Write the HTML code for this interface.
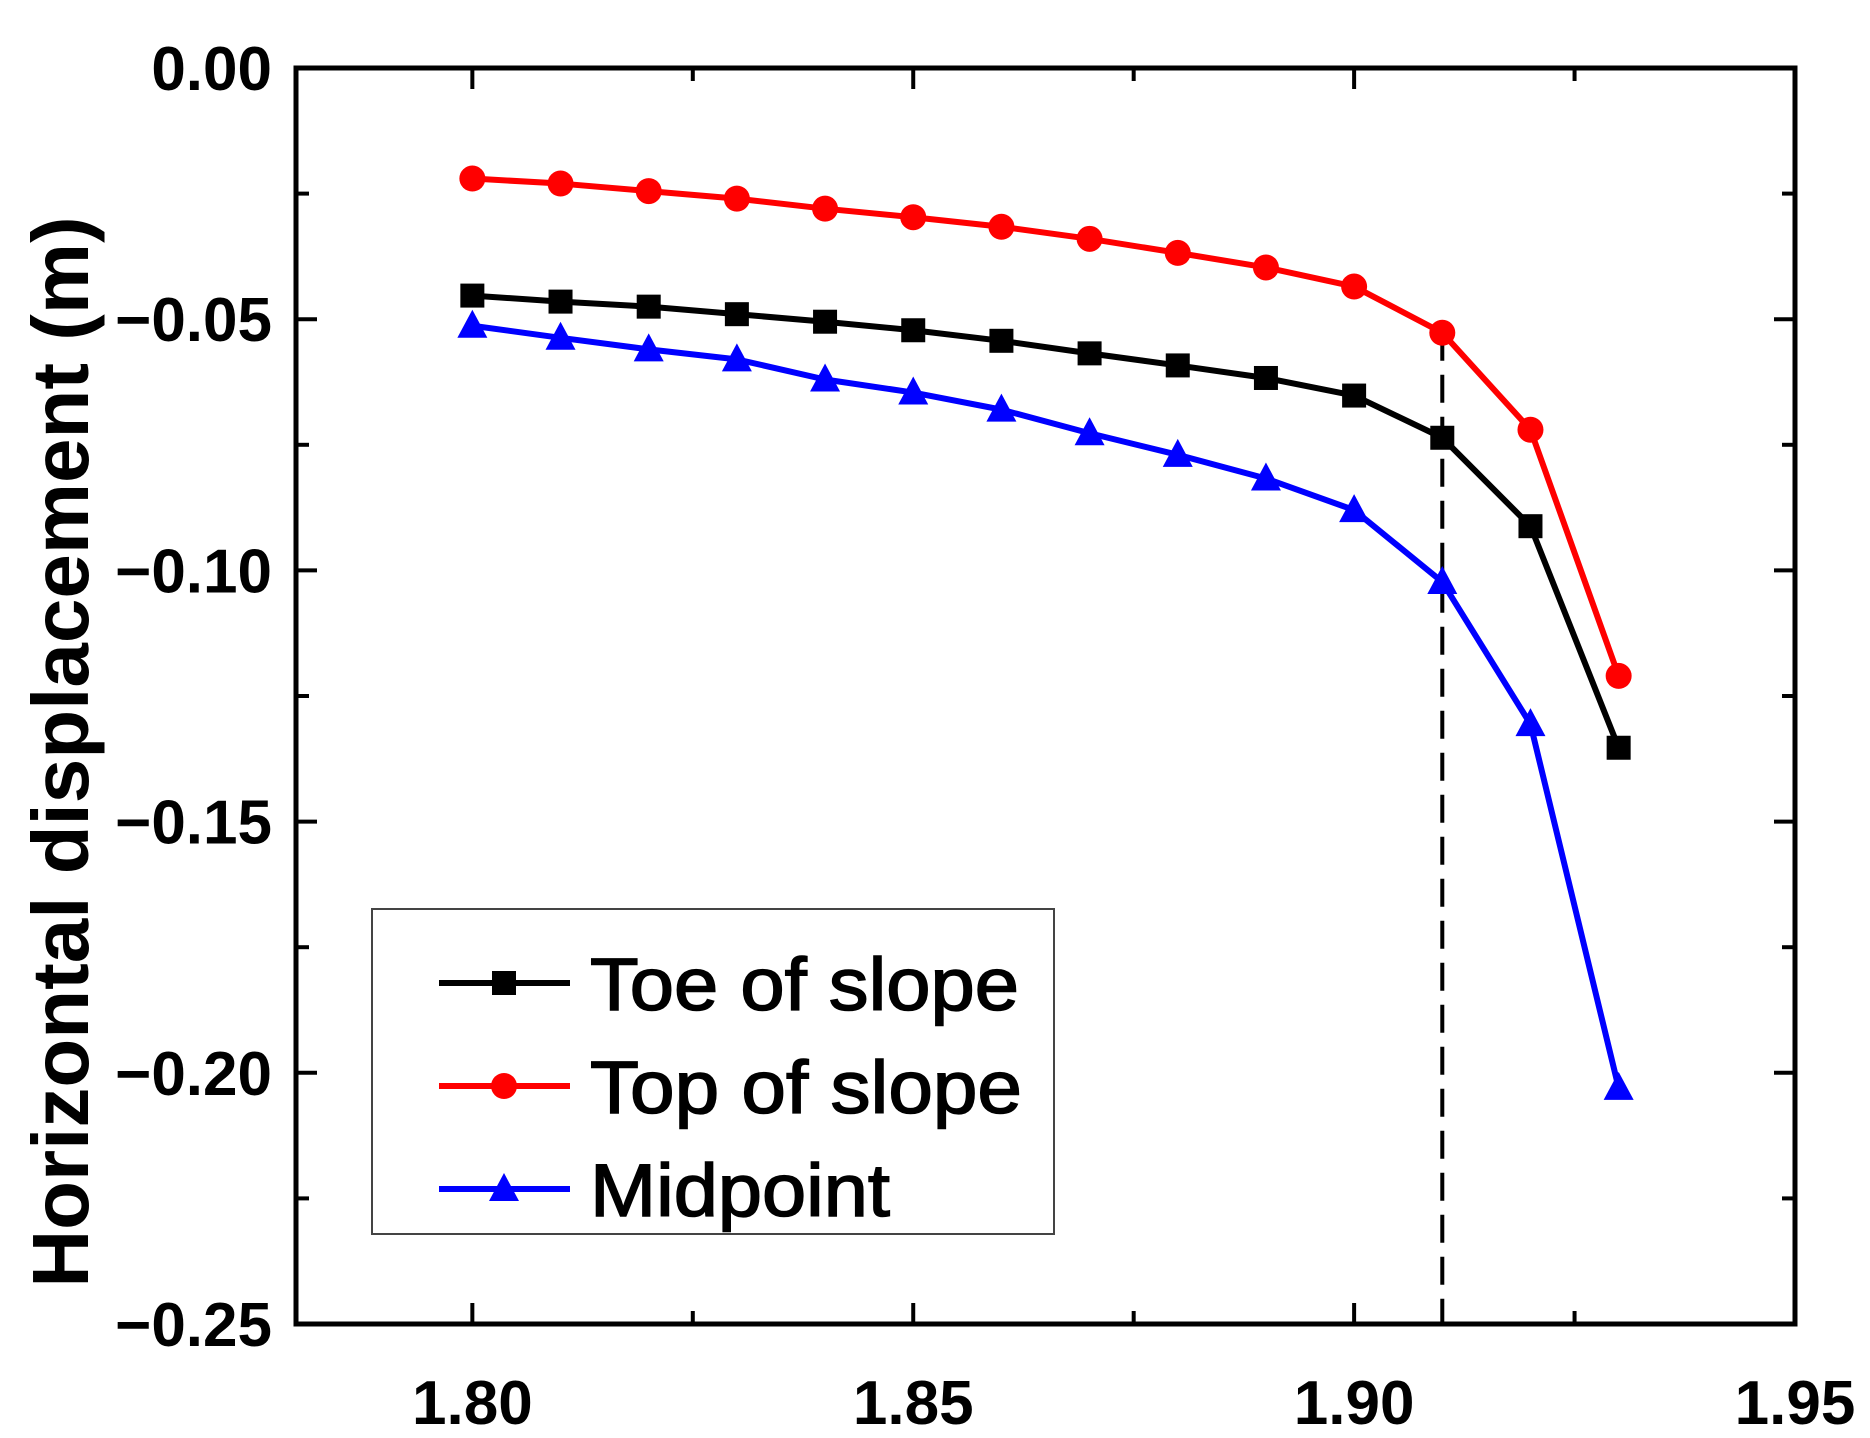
<!DOCTYPE html>
<html><head><meta charset="utf-8"><style>
html,body{margin:0;padding:0;background:#fff;overflow:hidden;}
svg{display:block;font-family:"Liberation Sans",Arial,sans-serif;font-weight:bold;}
</style></head><body>
<svg id="chart" width="1870" height="1438" viewBox="0 0 1870 1438"></svg>
<script>
const xValues=[1.80,1.81,1.82,1.83,1.84,1.85,1.86,1.87,1.88,1.89,1.90,1.91,1.92,1.93];
const toeValues=[-0.0453,-0.0465,-0.0475,-0.049,-0.0505,-0.0522,-0.0543,-0.0568,-0.0592,-0.0617,-0.0652,-0.0736,-0.0912,-0.1353];
const topValues=[-0.022,-0.023,-0.0245,-0.026,-0.028,-0.0297,-0.0316,-0.034,-0.0368,-0.0397,-0.0435,-0.0527,-0.072,-0.121];
const midValues=[-0.0513,-0.0537,-0.056,-0.058,-0.062,-0.0646,-0.068,-0.0727,-0.077,-0.0817,-0.088,-0.1023,-0.1306,-0.203];
const xTicks=[1.80,1.85,1.90,1.95];
const xTickLabels=["1.80","1.85","1.90","1.95"];
const yTicks=[0,-0.05,-0.10,-0.15,-0.20,-0.25];
const yTickLabels=["0.00","\u22120.05","\u22120.10","\u22120.15","\u22120.20","\u22120.25"];
const dashX=1.91;

const NS="http://www.w3.org/2000/svg";
const svg=document.getElementById('chart');
const L=296,R=1795,T=68,B=1324;
const xMin=1.78,xMax=1.95,yMin=-0.25,yMax=0;
const sx=v=>L+(v-xMin)/(xMax-xMin)*(R-L);
const sy=v=>T+(yMax-v)/(yMax-yMin)*(B-T);
function mk(tag,attrs,parent){const e=document.createElementNS(NS,tag);for(const k in attrs)e.setAttribute(k,attrs[k]);(parent||svg).appendChild(e);return e;}

const tickG=mk('g',{});


const tl=21, tm=13;
for(let i=0;i<=6;i++){const v=1.80+0.025*i;const x=sx(v);const len=i%2===0?tl:tm;
 mk('line',{x1:x,y1:B,x2:x,y2:B-len,stroke:'#000','stroke-width':4},tickG);
 mk('line',{x1:x,y1:T,x2:x,y2:T+len,stroke:'#000','stroke-width':4},tickG);}
for(let i=0;i<=10;i++){const v=-0.025*i;const y=sy(v);const len=i%2===0?tl:tm;
 mk('line',{x1:L,y1:y,x2:L+len,y2:y,stroke:'#000','stroke-width':4},tickG);
 mk('line',{x1:R,y1:y,x2:R-len,y2:y,stroke:'#000','stroke-width':4},tickG);}

xTicks.forEach((v,i)=>{const t=mk('text',{x:sx(v),y:1424,'text-anchor':'middle','font-size':62,fill:'#000'});t.textContent=xTickLabels[i];
 
 });
yTicks.forEach((v,i)=>{const t=mk('text',{x:272,y:sy(v)+22,'text-anchor':'end','font-size':62,fill:'#000'});t.textContent=yTickLabels[i];
 
 });

const yt=mk('text',{x:0,y:0,transform:'translate(88,752) rotate(-90)','text-anchor':'middle','font-size':80,fill:'#000'});
yt.textContent='Horizontal displacement (m)';



const dl=mk('line',{x1:sx(dashX),y1:sy(topValues[11]),x2:sx(dashX),y2:B,stroke:'#000','stroke-width':4,'stroke-dasharray':'28,14'});



function marker(type,x,y,color,g){
 if(type==='square') return mk('rect',{x:x-12,y:y-12,width:24,height:24,fill:color},g);
 if(type==='circle') return mk('circle',{cx:x,cy:y,r:13,fill:color},g);
 return mk('polygon',{points:`${x},${y-16} ${x-15},${y+12} ${x+15},${y+12}`,fill:color},g);
}
const series=[['toe-of-slope',toeValues,'#000','square'],['top-of-slope',topValues,'#ff0000','circle'],['midpoint',midValues,'#0000ff','triangle']];
series.forEach(([name,vals,color,type])=>{
 const g=mk('g',{});
 
 
 const pts=vals.map((v,i)=>sx(xValues[i])+','+sy(v)).join(' ');
 mk('polyline',{points:pts,fill:'none',stroke:color,'stroke-width':6,'stroke-linejoin':'round'},g);
 vals.forEach((v,i)=>{const m=marker(type,sx(xValues[i]),sy(v),color,g);
  
  });
});

const fr=mk('rect',{x:L,y:T,width:R-L,height:B-T,fill:'none',stroke:'#000','stroke-width':5});



const lg=mk('g',{});


mk('rect',{x:372,y:909,width:682,height:325,fill:'#fff',stroke:'#444','stroke-width':2},lg);
const labels=['Toe of slope','Top of slope','Midpoint'];
const lens=[429,432,300];
series.forEach(([name,vals,color,type],i)=>{
 const y=983+i*103;
 const e=mk('g',{},lg);
 
 
 mk('line',{x1:439,y1:y,x2:570,y2:y,stroke:color,'stroke-width':6},e);
 marker(type,504,y,color,e);
 const t=mk('text',{x:590,y:y+27,'font-size':74,fill:'#000','font-weight':'normal',stroke:'#000','stroke-width':1.5,textLength:lens[i],lengthAdjust:'spacingAndGlyphs'},e);
 t.textContent=labels[i];
});
</script>
</body></html>
